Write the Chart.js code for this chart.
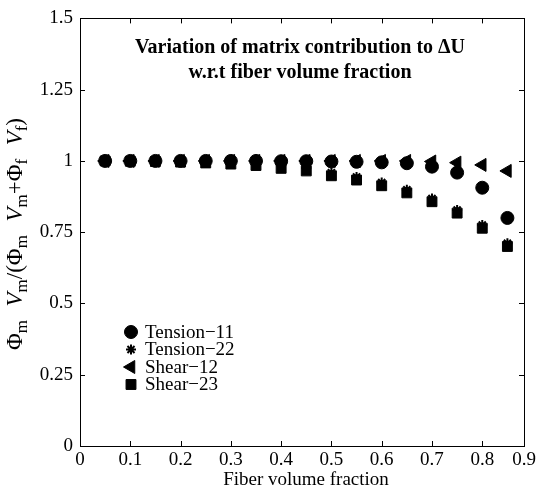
<!DOCTYPE html>
<html>
<head>
<meta charset="utf-8">
<script src="https://cdn.jsdelivr.net/npm/chart.js@4.4.0/dist/chart.umd.min.js"></script>
<style>
  html, body { margin: 0; padding: 0; background: #fff; }
  #wrap { width: 539px; height: 490px; }
</style>
</head>
<body>
<div id="wrap"><canvas id="chart" width="539" height="490"></canvas></div>
<script>
// fiber volume fraction (x) and normalised matrix contribution (y)
const fiberFraction = [0.05, 0.10, 0.15, 0.20, 0.25, 0.30, 0.35, 0.40, 0.45,
                       0.50, 0.55, 0.60, 0.65, 0.70, 0.75, 0.80, 0.85];
const tension11 = [1.000, 1.000, 1.000, 1.000, 1.000, 1.000, 1.000, 0.999, 0.999,
                   0.998, 0.997, 0.995, 0.992, 0.980, 0.959, 0.906, 0.800];
const tension22 = [1.000, 1.000, 0.999, 0.998, 0.997, 0.995, 0.991, 0.984, 0.975,
                   0.959, 0.944, 0.924, 0.899, 0.868, 0.828, 0.775, 0.711];
const shear12   = [1.000, 1.000, 1.000, 1.000, 1.000, 1.000, 1.000, 1.000, 1.000,
                   1.000, 1.000, 1.000, 1.000, 0.998, 0.994, 0.986, 0.965];
const shear23   = [1.000, 0.999, 0.998, 0.996, 0.993, 0.989, 0.984, 0.974, 0.965,
                   0.948, 0.933, 0.913, 0.888, 0.857, 0.817, 0.764, 0.700];

const seriesNames = ['Tension\u221211', 'Tension\u221222', 'Shear\u221212', 'Shear\u221223'];

// the box of the original stops just short of 0.9, where the last label sits
const X_MAX = 0.883;
const xTickValues = [0, 0.1, 0.2, 0.3, 0.4, 0.5, 0.6, 0.7, 0.8, X_MAX];
const xTickLabels = ['0', '0.1', '0.2', '0.3', '0.4', '0.5', '0.6', '0.7', '0.8', '0.9'];
const yTickValues = [0, 0.25, 0.5, 0.75, 1, 1.25, 1.5];
const yTickLabels = ['0', '0.25', '0.5', '0.75', '1', '1.25', '1.5'];

const SERIF = '"Liberation Serif", "Times New Roman", Times, serif';

const markerStyles = [
  { pointStyle: 'circle', radius: 6.5, rotation: 0, borderWidth: 1 },
  { pointStyle: 'star', radius: 5, rotation: 0, borderWidth: 2 },
  { pointStyle: 'triangle', radius: 7.5, rotation: -90, borderWidth: 1 },
  { pointStyle: 'rect', radius: 7, rotation: 0, borderWidth: 1 },
];

function toPoints(ys) {
  return fiberFraction.map((x, i) => ({ x: x, y: ys[i] }));
}

function makeDataset(label, ys, m) {
  return {
    label: label,
    data: toPoints(ys),
    showLine: false,
    pointStyle: m.pointStyle,
    pointRadius: m.radius,
    pointHoverRadius: m.radius,
    pointRotation: m.rotation,
    pointBorderWidth: m.borderWidth,
    backgroundColor: '#000',
    borderColor: '#000',
  };
}

function drawMarker(ctx, m, x, y) {
  ctx.fillStyle = '#000';
  ctx.strokeStyle = '#000';
  ctx.lineWidth = m.borderWidth;
  Chart.helpers.drawPoint(ctx, {
    pointStyle: m.pointStyle, radius: m.radius, rotation: m.rotation, borderWidth: m.borderWidth,
  }, x, y);
}

// box with inward tick marks on all four sides, like the original
const boxPlugin = {
  id: 'box',
  afterDraw(chart) {
    const { ctx, chartArea: a, scales } = chart;
    const L = 5;
    ctx.save();
    ctx.strokeStyle = '#000';
    ctx.lineWidth = 1;
    ctx.beginPath();
    scales.x.ticks.forEach(t => {
      const px = Math.round(scales.x.getPixelForValue(t.value)) + 0.5;
      ctx.moveTo(px, a.bottom); ctx.lineTo(px, a.bottom - L);
      ctx.moveTo(px, a.top); ctx.lineTo(px, a.top + L);
    });
    scales.y.ticks.forEach(t => {
      const py = Math.round(scales.y.getPixelForValue(t.value)) + 0.5;
      ctx.moveTo(a.left, py); ctx.lineTo(a.left + L, py);
      ctx.moveTo(a.right, py); ctx.lineTo(a.right - L, py);
    });
    ctx.stroke();
    ctx.strokeRect(Math.round(a.left) + 0.5, Math.round(a.top) + 0.5,
                   Math.round(a.width), Math.round(a.height));
    ctx.restore();
  }
};

// title inside the box, axis titles with subscripts, legend at lower left
const textPlugin = {
  id: 'texts',
  afterDraw(chart) {
    const { ctx } = chart;
    ctx.save();
    ctx.fillStyle = '#000';

    ctx.font = 'bold 20px ' + SERIF;
    ctx.textAlign = 'center';
    ctx.textBaseline = 'middle';
    ctx.fillText('Variation of matrix contribution to \u0394U', 300, 48);
    ctx.fillText('w.r.t fiber volume fraction', 300, 73);

    ctx.font = '19px ' + SERIF;
    ctx.fillText('Fiber volume fraction', 306, 480);

    // y title, rotated; kind 1 = subscript, 2 = italic, 3 = stretchable space
    const pieces = [
      ['\u03A6', 0], ['m', 1], [' ', 3], ['V', 2], ['m', 1], ['/(\u03A6', 0], ['m', 1], [' ', 3],
      ['V', 2], ['m', 1], ['+\u03A6', 0], ['f', 1], [' ', 3], ['V', 2], ['f', 1], [')', 0],
    ];
    const fontFor = k => k === 1 ? '17px ' + SERIF : (k === 2 ? 'italic 23px ' + SERIF : '23px ' + SERIF);
    const targetLen = 232;
    let total = 0;
    pieces.forEach(p => { ctx.font = fontFor(p[1]); total += ctx.measureText(p[0]).width; });
    const nSpaces = pieces.filter(p => p[1] === 3).length;
    const extra = Math.max(0, (targetLen - total) / nSpaces);
    const used = total + extra * nSpaces;
    ctx.translate(22, 234);
    ctx.rotate(-Math.PI / 2);
    ctx.textAlign = 'left';
    ctx.textBaseline = 'alphabetic';
    let cx = -used / 2;
    pieces.forEach(p => {
      ctx.font = fontFor(p[1]);
      ctx.fillText(p[0], cx, p[1] === 1 ? 5 : 0);
      cx += ctx.measureText(p[0]).width + (p[1] === 3 ? extra : 0);
    });
    ctx.restore();

    // legend
    ctx.save();
    ctx.font = '19px ' + SERIF;
    ctx.textAlign = 'left';
    ctx.textBaseline = 'middle';
    const rows = [332, 349.5, 367, 384.5];
    seriesNames.forEach((name, i) => {
      drawMarker(ctx, markerStyles[i], 131, rows[i]);
      ctx.fillStyle = '#000';
      ctx.fillText(name, 145, rows[i] + 1);
    });
    ctx.restore();
  }
};

const tickFont = { family: SERIF, size: 19 };

new Chart(document.getElementById('chart'), {
  type: 'scatter',
  data: {
    datasets: [
      makeDataset(seriesNames[0], tension11, markerStyles[0]),
      makeDataset(seriesNames[1], tension22, markerStyles[1]),
      makeDataset(seriesNames[2], shear12, markerStyles[2]),
      makeDataset(seriesNames[3], shear23, markerStyles[3]),
    ],
  },
  options: {
    responsive: false,
    animation: false,
    events: [],
    layout: { padding: { top: 18, right: 15, left: 0, bottom: 0 } },
    plugins: {
      legend: { display: false },
      tooltip: { enabled: false },
      title: { display: false },
    },
    scales: {
      x: {
        type: 'linear',
        min: 0,
        max: X_MAX,
        grid: { display: false, drawTicks: false },
        border: { display: false },
        afterBuildTicks: scale => { scale.ticks = xTickValues.map(v => ({ value: v })); },
        afterFit: scale => { scale.height = 44; },
        ticks: {
          autoSkip: false,
          maxRotation: 0,
          padding: 3,
          color: '#000',
          font: tickFont,
          callback: (value, index) => xTickLabels[index],
        },
      },
      y: {
        type: 'linear',
        min: 0,
        max: 1.5,
        grid: { display: false, drawTicks: false },
        border: { display: false },
        afterBuildTicks: scale => { scale.ticks = yTickValues.map(v => ({ value: v })); },
        afterFit: scale => { scale.width = 80; },
        ticks: {
          padding: 7,
          color: '#000',
          font: tickFont,
          callback: (value, index) => yTickLabels[index],
        },
      },
    },
  },
  plugins: [boxPlugin, textPlugin],
});
</script>
</body>
</html>
